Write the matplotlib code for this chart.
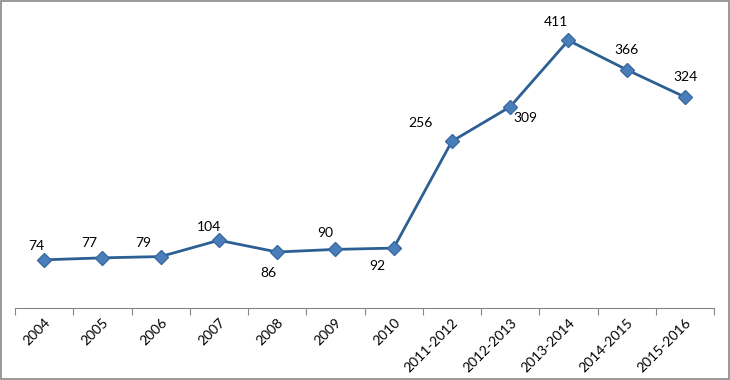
import matplotlib.pyplot as plt
from matplotlib.patches import Rectangle

# data
years = ["2004", "2005", "2006", "2007", "2008", "2009", "2010",
         "2011-2012", "2012-2013", "2013-2014", "2014-2015", "2015-2016"]
values = [74, 77, 79, 104, 86, 90, 92, 256, 309, 411, 366, 324]

# label offsets in pixels (dx, dy)
offsets = [(-8, 14), (-13, 15), (-17, 14), (-10, 13), (-9, -21), (-10, 16),
           (-16, -18), (-31, 18), (15, -11), (-12, 18), (0, 20), (1, 20)]

plt.rcParams['font.family'] = ['Lato', 'DejaVu Sans']

fig = plt.figure(figsize=(7.3, 3.8), dpi=100)
ax = fig.add_axes([15/730, 72/380, (714-15)/730, (308-15)/380])

x = list(range(len(years)))
ax.plot(x, values, color="#2C5F93", lw=2.0, marker="D", markersize=7,
        markerfacecolor="#4A7EBB", markeredgecolor="#3A6A9F", zorder=3)

for i in range(len(values)):
    ax.annotate(str(values[i]), (x[i], values[i]), xytext=offsets[i],
                textcoords="offset pixels", ha="center", va="center",
                fontsize=10, color="black")

ax.set_xlim(-0.5, len(years) - 0.5)
ax.set_ylim(0, 450)
ax.set_yticks([])
for s in ["left", "right", "top"]:
    ax.spines[s].set_visible(False)
ax.spines["bottom"].set_color("#868686")

# tick marks between categories, labels centred on categories
ax.set_xticks([i - 0.5 for i in range(len(years) + 1)], minor=False)
ax.set_xticklabels([])
ax.tick_params(axis="x", which="major", length=5, color="#868686", direction="out")
ax.set_xticks(x, minor=True)
ax.set_xticklabels(years, minor=True, rotation=45, ha="right", va="top",
                   rotation_mode="anchor", fontsize=10)
ax.tick_params(axis="x", which="minor", length=0, pad=6)

# outer frame
fig.patches.append(Rectangle((0.001, 0.002), 0.997, 0.995, transform=fig.transFigure,
                             fill=False, edgecolor="#888888", lw=1.2))

fig.savefig("out.png", dpi=100)
